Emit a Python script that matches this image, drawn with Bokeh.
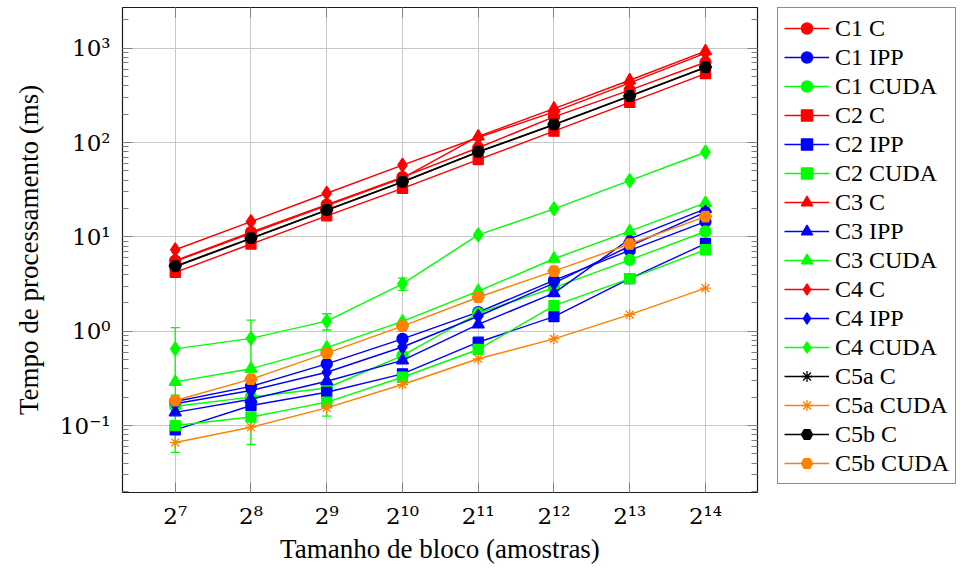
from bokeh.plotting import figure
from bokeh.layouts import row
from bokeh.models import (ColumnDataSource, Legend, LegendItem, LogAxis, FixedTicker,
                          Whisker, TeeHead, Range1d)
from bokeh.embed import file_html
from bokeh.resources import INLINE

# ---------------- data ----------------
block_sizes = [128, 256, 512, 1024, 2048, 4096, 8192, 16384]
x_tick_labels = ["2⁷", "2⁸", "2⁹", "2¹⁰", "2¹¹", "2¹²", "2¹³", "2¹⁴"]
y_ticks = [0.1, 1, 10, 100, 1000]
y_tick_labels = ["10⁻¹", "10⁰", "10¹", "10²", "10³"]

c1_c = [5.6, 11.2, 22.0, 43.0, 88.0, 187.0, 359.0, 709.0]
c1_ipp = [0.18, 0.26, 0.45, 0.83, 1.59, 3.45, 7.2, 14.5]
c1_cuda = [0.16, 0.20, 0.25, 0.55, 1.55, 2.9, 5.7, 11.4]
c2_c = [4.2, 8.4, 16.7, 32.6, 65.8, 132.0, 267.0, 537.0]
c2_ipp = [0.09, 0.163, 0.225, 0.353, 0.764, 1.43, 3.6, 8.5]
c2_cuda = [0.10, 0.123, 0.177, 0.325, 0.64, 1.87, 3.6, 7.3]
c3_c = [5.5, 10.9, 21.5, 42.0, 116.0, 229.0, 457.0, 929.0]
c3_ipp = [0.138, 0.19, 0.295, 0.49, 1.18, 2.53, 9.5, 19.8]
c3_cuda = [0.29, 0.40, 0.67, 1.27, 2.66, 5.86, 11.5, 22.9]
c4_c = [7.3, 14.5, 29.0, 57.7, 113.0, 211.0, 428.0, 885.0]
c4_ipp = [0.17, 0.235, 0.367, 0.68, 1.44, 3.23, 8.0, 18.3]
c4_cuda = [0.65, 0.84, 1.28, 3.18, 10.5, 19.8, 39.5, 78.9]
c5a_c = [4.8, 9.6, 19.1, 38.0, 79.0, 154.0, 308.0, 622.0]
c5a_cuda = [0.066, 0.096, 0.154, 0.272, 0.51, 0.83, 1.5, 2.86]
c5b_c = [4.9, 9.7, 19.3, 38.4, 80.0, 156.0, 312.0, 630.0]
c5b_cuda = [0.184, 0.31, 0.585, 1.13, 2.29, 4.33, 8.4, 16.4]

# error bars (standard deviation); 0 = no bar drawn
c4_cuda_err = [0.44, 0.47, 0.25, 0.47, 0, 0, 0, 0]
c2_cuda_err = [0.048, 0.06, 0.051, 0, 0, 0, 0, 0]

series_names = ["C1 C", "C1 IPP", "C1 CUDA", "C2 C", "C2 IPP", "C2 CUDA",
                "C3 C", "C3 IPP", "C3 CUDA", "C4 C", "C4 IPP", "C4 CUDA",
                "C5a C", "C5a CUDA", "C5b C", "C5b CUDA"]
series_values = [c1_c, c1_ipp, c1_cuda, c2_c, c2_ipp, c2_cuda,
                 c3_c, c3_ipp, c3_cuda, c4_c, c4_ipp, c4_cuda,
                 c5a_c, c5a_cuda, c5b_c, c5b_cuda]

RED, BLUE, GREEN, BLACK, ORANGE = "#ff0000", "#0000ff", "#00ff00", "#000000", "#ff8000"
series_colors = [RED, BLUE, GREEN, RED, BLUE, GREEN, RED, BLUE, GREEN,
                 RED, BLUE, GREEN, BLACK, ORANGE, BLACK, ORANGE]
series_markers = ["circle"] * 3 + ["square"] * 3 + ["triangle"] * 3 + ["diamond"] * 3 + \
                 ["asterisk"] * 2 + ["hex"] * 2
marker_sizes = {"circle": 11, "square": 10, "triangle": 12, "diamond": 14,
                "asterisk": 11, "hex": 12}

FONT = "Liberation Serif"
TICK_FONT = "DejaVu Serif"
FS = "27px"
H = 567

p = figure(frame_width=635, frame_height=485, x_axis_type="log", y_axis_type="log",
           x_range=Range1d(79, 26380), y_range=Range1d(0.0195, 2700),
           output_backend="svg", toolbar_location=None,
           min_border_left=122, min_border_right=20, min_border_top=7,
           min_border_bottom=75)
p.background_fill_color = "white"
p.border_fill_color = "white"
p.outline_line_color = "#1a1a1a"
p.outline_line_width = 1.2

minor_y = [k * 10.0 ** e for e in range(-2, 4) for k in range(2, 10)]

# bottom / left axes
xa = p.xaxis[0]
xa.ticker = FixedTicker(ticks=block_sizes, minor_ticks=[])
xa.major_label_overrides = {v: t for v, t in zip(block_sizes, x_tick_labels)}
ya = p.yaxis[0]
ya.ticker = FixedTicker(ticks=y_ticks, minor_ticks=minor_y)
ya.major_label_overrides = {v: t for v, t in zip(y_ticks, y_tick_labels)}

for ax in (xa, ya):
    ax.axis_line_color = None
    ax.major_tick_in = 10
    ax.major_tick_out = 0
    ax.minor_tick_in = 6
    ax.minor_tick_out = 0
    ax.major_tick_line_color = "#808080"
    ax.minor_tick_line_color = "#808080"
    ax.major_label_text_font = TICK_FONT
    ax.major_label_text_font_size = "23px"
    ax.major_label_text_color = "black"
    ax.major_label_standoff = 12
    ax.axis_label_text_font = FONT
    ax.axis_label_text_font_size = FS
    ax.axis_label_text_font_style = "normal"
    ax.axis_label_text_color = "black"

xa.major_label_standoff = 10
xa.axis_label = "Tamanho de bloco (amostras)"
xa.axis_label_standoff = 2
ya.axis_label = "Tempo de processamento (ms)"
ya.axis_label_standoff = 13

# mirrored axes (ticks only)
top = LogAxis(ticker=FixedTicker(ticks=block_sizes, minor_ticks=[]))
right = LogAxis(ticker=FixedTicker(ticks=y_ticks, minor_ticks=minor_y))
top.major_label_overrides = {v: "" for v in block_sizes}
right.major_label_overrides = {v: "" for v in y_ticks}
for ax in (top, right):
    ax.axis_line_color = None
    ax.major_tick_in = 10
    ax.major_tick_out = 0
    ax.minor_tick_in = 6
    ax.minor_tick_out = 0
    ax.major_tick_line_color = "#808080"
    ax.minor_tick_line_color = "#808080"
    ax.major_label_text_alpha = 0
    ax.major_label_standoff = 0
top.major_label_text_font_size = "1px"
right.major_label_text_font_size = "10px"
p.add_layout(top, "above")
p.add_layout(right, "right")

p.xgrid.grid_line_color = "#c8c8c8"
p.ygrid.grid_line_color = "#c8c8c8"
p.xgrid.ticker = FixedTicker(ticks=block_sizes)
p.ygrid.ticker = FixedTicker(ticks=y_ticks)
p.ygrid.minor_grid_line_color = None

# figure that only holds the key (its data lie outside its view)
lg = figure(width=195, height=H, x_range=(0, 1), y_range=(0, 1),
            output_backend="svg", toolbar_location=None,
            min_border_left=0, min_border_right=0, min_border_top=7,
            min_border_bottom=0)
lg.axis.visible = False
lg.grid.visible = False
lg.outline_line_color = None
lg.background_fill_color = "white"
lg.border_fill_color = "white"

items = []
for name, vals, col, mk in zip(series_names, series_values, series_colors, series_markers):
    src = ColumnDataSource(dict(x=block_sizes, y=vals))
    p.line("x", "y", source=src, line_color=col, line_width=1.4)
    p.scatter("x", "y", source=src, marker=mk, size=marker_sizes[mk],
              fill_color=col, line_color=col, line_width=1.3)
    if name in ("C4 CUDA", "C2 CUDA"):
        err = c4_cuda_err if name == "C4 CUDA" else c2_cuda_err
        xs = [b for b, e in zip(block_sizes, err) if e > 0]
        up = [v + e for v, e in zip(vals, err) if e > 0]
        lo = [v - e for v, e in zip(vals, err) if e > 0]
        esrc = ColumnDataSource(dict(x=xs, upper=up, lower=lo))
        w = Whisker(source=esrc, base="x", upper="upper", lower="lower",
                    line_color=col, line_width=1.3,
                    upper_head=TeeHead(size=9, line_color=col, line_width=1.3),
                    lower_head=TeeHead(size=9, line_color=col, line_width=1.3))
        p.add_layout(w)
    kl = lg.line("x", "y", source=src, line_color=col, line_width=1.4)
    ks = lg.scatter("x", "y", source=src, marker=mk, size=marker_sizes[mk],
                    fill_color=col, line_color=col, line_width=1.3)
    items.append(LegendItem(label=name, renderers=[kl, ks]))

legend = Legend(items=items, location="top_left")
legend.label_text_font = FONT
legend.label_text_font_size = "24px"
legend.label_text_color = "black"
legend.glyph_width = 45
legend.glyph_height = 28
legend.label_height = 28
legend.label_standoff = 6
legend.spacing = 1
legend.padding = 6
legend.margin = 0
legend.border_line_color = "#1a1a1a"
legend.border_line_width = 1.2
legend.background_fill_color = "white"
legend.background_fill_alpha = 1.0
lg.add_layout(legend)

layout = row(p, lg, spacing=0)
open("out.html", "w").write(file_html(layout, INLINE))
